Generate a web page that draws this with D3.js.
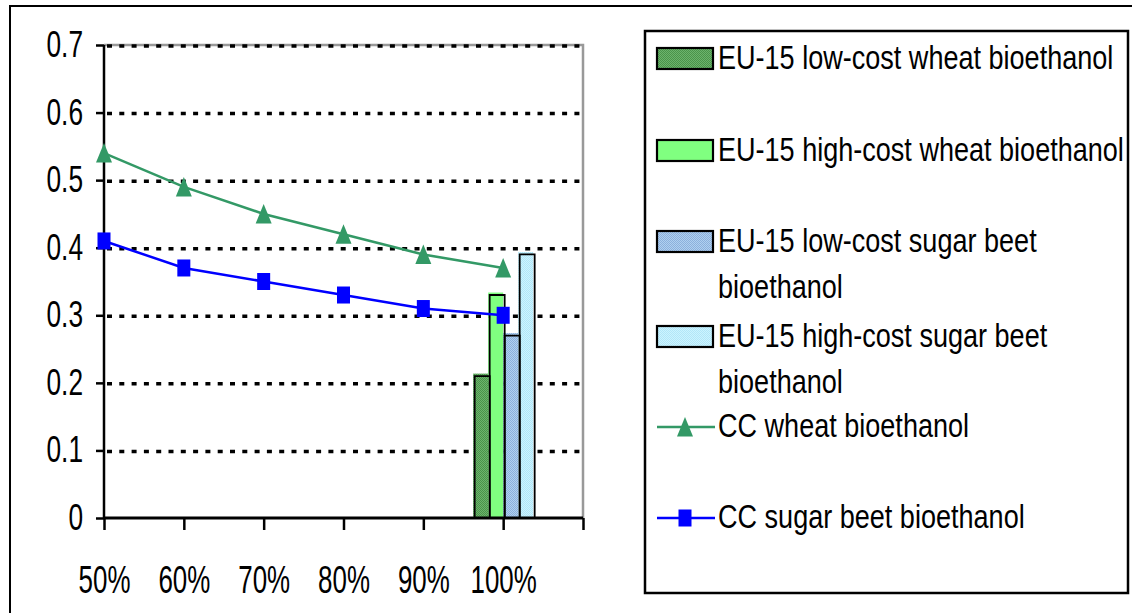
<!DOCTYPE html>
<html><head><meta charset="utf-8">
<script src="https://cdn.jsdelivr.net/npm/d3@7/dist/d3.min.js"></script>
<style>
html,body{margin:0;padding:0;background:#fff;}
text{font-family:"Liberation Sans Narrow","Arial Narrow","Liberation Sans",Arial,sans-serif;fill:#000;}
</style></head><body>
<svg id="c" width="1132" height="613"></svg>
<script>
const categories = ["50%","60%","70%","80%","90%","100%"];
const yTicks = [0,0.1,0.2,0.3,0.4,0.5,0.6,0.7];
const ccWheat = [0.54,0.49,0.45,0.42,0.39,0.37];
const ccBeet  = [0.41,0.37,0.35,0.33,0.31,0.30];
const barSeries = ["EU-15 low-cost wheat bioethanol","EU-15 high-cost wheat bioethanol","EU-15 low-cost sugar beet bioethanol","EU-15 high-cost sugar beet bioethanol"];
const barValues = [0.21,0.33,0.27,0.39];
const barCategory = "100%";
const barColors = ["#5fa85f","#80ff80","#9fc0e6","#c0eefc"];
const lineSeries = ["CC wheat bioethanol","CC sugar beet bioethanol"];
const lineColors = ["#339966","#0000ff"];
const legendLines = [["EU-15 low-cost wheat bioethanol"],["EU-15 high-cost wheat bioethanol"],["EU-15 low-cost sugar beet","bioethanol"],["EU-15 high-cost sugar beet","bioethanol"],["CC wheat bioethanol"],["CC sugar beet bioethanol"]];

const svg = d3.select("#c");
const L=104, R=583, T=45, B=518;
const x = d3.scalePoint().domain([...categories, "end"]).range([L,R]);
const y = d3.scaleLinear().domain([0,0.7]).range([B,T]);

// outer border
svg.append("rect").attr("x",10).attr("y",6).attr("width",1200).attr("height",700)
  .attr("fill","none").attr("stroke","#000").attr("stroke-width",2);

const defs = svg.append("defs");
function pat(id, c1, c2){
  const p = defs.append("pattern").attr("id",id).attr("width",2).attr("height",2).attr("patternUnits","userSpaceOnUse");
  p.append("rect").attr("width",2).attr("height",2).attr("fill",c1);
  p.append("rect").attr("width",1).attr("height",1).attr("fill",c2);
  p.append("rect").attr("x",1).attr("y",1).attr("width",1).attr("height",1).attr("fill",c2);
}
pat("p0","#6cb46c","#4a934a");
pat("p2","#b0d0f0","#8cb0dc");
pat("p3","#ccf4ff","#b2e6f8");
const fills = ["url(#p0)", barColors[1], "url(#p2)", "url(#p3)"];

// plot border (gray)
svg.append("path").attr("d",`M${L},${T}H${R}V${B}`).attr("fill","none").attr("stroke","#999").attr("stroke-width",2.5);

// gridlines
svg.append("g").selectAll("line").data(yTicks.filter(d=>d>0)).join("line")
  .attr("x1",L+3).attr("x2",R).attr("y1",d=>y(d)+1).attr("y2",d=>y(d)+1)
  .attr("stroke","#000").attr("stroke-width",3.5).attr("stroke-dasharray","5,7.3");

// bars
const xb = d3.scaleBand().domain(barSeries).range([x(barCategory)-30, x(barCategory)+30]);
const bg = svg.append("g");
barValues.forEach((v,i)=>{
  const bx = xb(barSeries[i]), bw = xb.bandwidth();
  bg.append("rect").attr("x",bx).attr("y",y(v)-2.5).attr("width",bw).attr("height",B-y(v)+2.5)
    .attr("fill",fills[i]);
});
barValues.forEach((v,i)=>{
  const bx = xb(barSeries[i]), bw = xb.bandwidth();
  bg.append("path").attr("d",`M${bx+1.5},${B}V${y(v)}H${bx+bw+1.5}V${B}`)
    .attr("fill","none").attr("stroke","#000").attr("stroke-width",1.8);
});

// axes
const yAxis = d3.axisLeft(y).tickValues(yTicks).tickSize(8).tickFormat(d=>d===0?"0":d3.format(".1f")(d));
const ga = svg.append("g").attr("transform",`translate(${L},0)`).call(yAxis);
ga.select(".domain").attr("stroke","#000").attr("stroke-width",2.5).attr("d",`M0,${T}V${B}`);
ga.selectAll(".tick line").attr("stroke","#000").attr("stroke-width",2.5);
ga.selectAll(".tick text").attr("x",0).attr("dy",null).attr("dominant-baseline","central")
  .style("font-size","36px").attr("transform","translate(-21,-1) scale(0.73,1)");

const xAxis = d3.axisBottom(x).tickSize(12).tickFormat(d=>d==="end"?"":d);
const gx = svg.append("g").attr("transform",`translate(0,${B})`).call(xAxis);
gx.select(".domain").attr("stroke","#000").attr("stroke-width",3).attr("d",`M${L},0H${R}`);
gx.selectAll(".tick line").attr("stroke","#000").attr("stroke-width",2.5);
gx.selectAll(".tick text").attr("y",0).attr("dy",null).attr("dominant-baseline","central")
  .style("font-size","36px").attr("transform","translate(0,61) scale(0.72,1.1)");

// lines
const line = d3.line().x((d,i)=>x(categories[i])).y(d=>y(d));
svg.append("path").datum(ccWheat).attr("d",line).attr("fill","none").attr("stroke",lineColors[0]).attr("stroke-width",2.5);
svg.append("path").datum(ccBeet).attr("d",line).attr("fill","none").attr("stroke",lineColors[1]).attr("stroke-width",2.5);
const tri = (cx,cy)=>`M${cx},${cy-10}L${cx+8},${cy+9.5}L${cx-8},${cy+9.5}Z`;
svg.append("g").selectAll("path").data(ccWheat).join("path")
  .attr("d",(d,i)=>tri(x(categories[i]),y(d))).attr("fill",lineColors[0]);
svg.append("g").selectAll("rect").data(ccBeet).join("rect")
  .attr("x",(d,i)=>x(categories[i])-6.5).attr("y",d=>y(d)-8.5).attr("width",13).attr("height",17).attr("fill",lineColors[1]);

// legend
const lg = svg.append("g");
lg.append("rect").attr("x",645).attr("y",31).attr("width",483).attr("height",562)
  .attr("fill","none").attr("stroke","#000").attr("stroke-width",2.5);
const rowY = [58,150,241,336,426,517];
legendLines.forEach((lines,i)=>{
  const cy = rowY[i];
  if(i<4){
    lg.append("rect").attr("x",656).attr("y",cy-11).attr("width",57).attr("height",22).attr("fill",fills[i]);
    lg.append("rect").attr("x",657).attr("y",cy-10).attr("width",56).attr("height",21).attr("fill","none").attr("stroke","#000").attr("stroke-width",2.2);
  } else {
    const c = lineColors[i-4];
    lg.append("line").attr("x1",657).attr("x2",715).attr("y1",cy+1).attr("y2",cy+1).attr("stroke",c).attr("stroke-width",2.5);
    if(i===4) lg.append("path").attr("d",tri(685,cy+1)).attr("fill",c);
    else lg.append("rect").attr("x",678.5).attr("y",cy+1-8.5).attr("width",13).attr("height",17).attr("fill",c);
  }
  lines.forEach((t,j)=>{
    lg.append("text").attr("x",0).attr("y",0).attr("dominant-baseline","central")
      .attr("transform",`translate(718,${cy+j*46}) scale(0.82,1)`)
      .style("font-size","33px").text(t);
  });
});
</script></body></html>
